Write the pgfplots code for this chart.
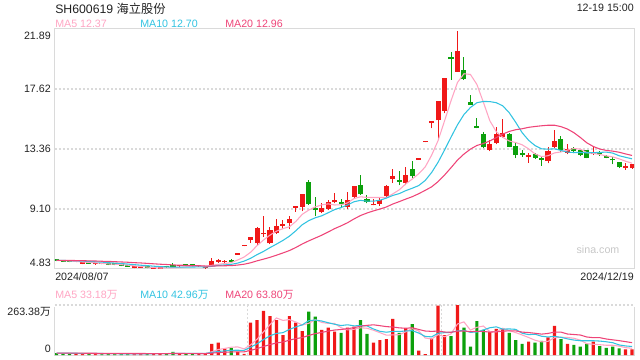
\documentclass[border=0pt]{standalone}
\usepackage{pgfplots}
\pgfplotsset{compat=1.18}
\usepackage{pgfplotstable}
\usepackage{fontspec}
\setmainfont{Liberation Sans}
\newfontfamily\cjk{Noto Sans CJK SC}
\definecolor{gridc}{RGB}{218,218,218}
\definecolor{cred}{RGB}{240,24,24}
\definecolor{cgreen}{RGB}{12,160,12}
\definecolor{cfive}{RGB}{255,165,195}
\definecolor{cten}{RGB}{50,195,225}
\definecolor{ctwenty}{RGB}{238,68,120}
\definecolor{labc}{RGB}{34,34,34}

\pgfplotstableread{
i O H L C
3 5.33 5.38 5.30 5.33
4 5.20 5.30 5.18 5.25
6 5.15 5.22 5.13 5.20
12 4.90 4.97 4.88 4.93
13 4.93 5.00 4.92 4.95
15 4.84 4.89 4.83 4.86
16 4.85 4.90 4.83 4.87
19 5.02 5.10 5.00 5.06
22 5.01 5.06 5.00 5.03
23 4.88 4.92 4.86 4.90
24 5.11 5.61 5.04 5.40
25 5.33 5.55 5.28 5.40
26 5.30 5.47 5.26 5.36
28 5.86 5.86 5.86 5.86
29 6.45 6.45 6.45 6.45
30 6.89 7.10 6.70 7.08
31 6.65 7.81 6.54 7.72
32 7.30 8.59 7.12 7.33
33 6.65 7.80 6.60 7.60
34 7.37 8.36 7.32 7.89
35 7.89 8.31 7.65 7.95
36 8.12 8.60 7.67 8.38
37 9.18 9.22 8.90 9.22
38 9.24 10.14 8.94 10.14
41 8.87 9.50 8.80 9.16
42 9.08 9.70 9.02 9.56
43 9.56 10.22 9.50 9.75
45 9.22 10.33 9.07 9.73
46 9.97 10.73 9.80 10.70
49 9.36 9.80 9.35 9.40
50 9.45 9.92 9.31 9.73
51 10.02 10.80 9.95 10.70
52 11.21 11.92 10.97 11.44
54 10.93 12.10 10.79 11.51
56 12.58 12.58 12.58 12.58
57 13.84 13.84 13.84 13.84
58 15.20 15.22 14.85 15.22
59 15.40 16.74 14.05 16.74
60 16.08 18.41 15.90 18.41
62 18.85 21.73 18.85 20.32
67 13.29 14.00 13.20 13.71
68 13.81 14.90 13.71 14.41
69 14.23 15.47 14.15 14.52
73 12.79 13.10 12.39 12.93
76 12.50 13.52 12.34 13.22
77 13.50 14.72 13.45 13.93
79 13.07 13.70 13.00 13.36
83 12.98 13.60 12.96 13.00
88 12.00 12.33 11.88 12.16
89 11.98 12.30 11.95 12.28
}\redc

\pgfplotstableread{
i O H L C
0 5.47 5.50 5.38 5.40
1 5.40 5.43 5.33 5.36
2 5.36 5.40 5.30 5.33
5 5.25 5.28 5.20 5.22
7 5.22 5.25 5.15 5.17
8 5.17 5.20 5.10 5.13
9 5.13 5.16 5.08 5.12
10 5.12 5.14 5.04 5.06
11 5.06 5.08 4.98 5.00
14 4.95 4.97 4.88 4.90
17 4.98 5.00 4.93 4.95
18 5.05 5.24 4.98 5.00
20 5.10 5.15 5.05 5.08
21 5.08 5.10 5.03 5.06
27 5.40 5.54 5.30 5.33
39 11.02 11.15 9.40 9.44
40 9.10 9.92 8.57 9.04
44 9.56 9.79 9.14 9.44
47 10.80 11.51 10.10 10.16
48 9.80 10.09 9.50 9.57
53 11.08 11.82 10.80 11.02
55 11.92 12.53 11.30 11.44
61 19.90 20.25 18.27 19.75
63 18.97 19.92 18.30 18.33
64 16.70 17.20 16.50 16.50
65 14.88 15.54 14.85 14.85
66 14.41 14.55 13.40 13.47
70 14.41 14.50 13.50 13.52
71 13.57 13.80 12.72 12.93
72 12.96 13.29 12.80 12.93
74 13.00 13.10 12.64 12.72
75 12.62 12.83 12.16 12.58
78 14.07 14.29 13.17 13.29
80 13.43 13.52 13.05 13.22
81 13.29 13.29 12.83 12.93
82 13.29 13.29 12.72 12.72
84 13.02 13.20 12.87 12.98
85 12.87 12.90 12.70 12.73
86 12.58 12.80 12.28 12.55
87 12.47 12.47 12.00 12.05
}\greenc

\pgfplotstableread{
i m5 m10 m20
0 5.44 5.45 5.45
1 5.42 5.44 5.44
2 5.40 5.42 5.44
3 5.37 5.41 5.43
4 5.33 5.39 5.42
5 5.30 5.37 5.41
6 5.27 5.34 5.40
7 5.23 5.32 5.38
8 5.19 5.28 5.37
9 5.17 5.25 5.35
10 5.14 5.22 5.33
11 5.10 5.18 5.31
12 5.05 5.14 5.28
13 5.01 5.10 5.26
14 4.97 5.07 5.23
15 4.93 5.03 5.20
16 4.90 5.00 5.17
17 4.91 4.98 5.15
18 4.92 4.96 5.12
19 4.95 4.96 5.10
20 4.99 4.96 5.09
21 5.03 4.97 5.07
22 5.05 4.98 5.06
23 5.03 4.97 5.04
24 5.09 5.02 5.04
25 5.16 5.08 5.05
26 5.22 5.12 5.06
27 5.28 5.16 5.07
28 5.47 5.25 5.11
29 5.68 5.39 5.17
30 6.02 5.59 5.27
31 6.49 5.85 5.41
32 6.89 6.08 5.53
33 7.24 6.35 5.66
34 7.52 6.60 5.81
35 7.70 6.86 5.97
36 7.83 7.16 6.14
37 8.21 7.55 6.36
38 8.72 7.98 6.61
39 9.02 8.27 6.83
40 9.24 8.47 7.03
41 9.39 8.61 7.23
42 9.46 8.83 7.46
43 9.38 9.05 7.70
44 9.39 9.20 7.90
45 9.53 9.38 8.12
46 9.84 9.61 8.39
47 9.96 9.71 8.63
48 9.92 9.65 8.81
49 9.91 9.65 8.96
50 9.91 9.72 9.09
51 9.91 9.87 9.24
52 10.17 10.06 9.45
53 10.46 10.19 9.62
54 10.88 10.40 9.80
55 11.22 10.57 9.97
56 11.60 10.76 10.18
57 12.08 11.12 10.42
58 12.92 11.69 10.67
59 13.96 12.42 11.04
60 15.36 13.29 11.51
61 16.79 14.20 12.03
62 18.09 15.08 12.57
63 18.71 15.81 13.00
64 18.66 16.31 13.35
65 17.95 16.65 13.61
66 16.69 16.74 13.75
67 15.37 16.73 13.93
68 14.59 16.65 14.17
69 14.19 16.43 14.42
70 13.93 15.94 14.61
71 13.82 15.26 14.73
72 13.66 14.52 14.80
73 13.37 13.98 14.90
74 13.01 13.60 14.96
75 12.82 13.37 15.01
76 12.88 13.35 15.05
77 13.08 13.37 15.05
78 13.15 13.26 14.95
79 13.28 13.14 14.78
80 13.40 13.11 14.52
81 13.35 13.11 14.18
82 13.10 13.09 13.80
83 13.05 13.10 13.54
84 12.97 13.12 13.36
85 12.87 13.14 13.26
86 12.80 13.07 13.21
87 12.66 12.88 13.13
88 12.49 12.77 13.01
89 12.35 12.66 12.90
}\pma

\pgfplotstableread{
i v
3 6
4 8
6 7
12 8
13 6
15 9
16 8
19 8
22 6
23 9
24 58
25 65
26 35
28 17
29 6
30 170
31 184
32 233
33 205
34 184
35 105
36 205
37 170
38 126
41 132
42 144
43 123
45 144
46 149
49 65
50 79
51 84
52 190
54 141
56 23
57 5
58 88
59 260
60 105
62 263.38
67 120
68 137
69 137
73 70
76 93
77 153
79 58
83 70
88 30
89 30
}\redv

\pgfplotstableread{
i v
0 10
1 8
2 7
5 6
7 6
8 7
9 5
10 6
11 7
14 7
17 6
18 16
20 7
21 6
27 38
39 228
40 202
44 117
47 184
48 111
53 117
55 163
61 100
63 144
64 44
65 179
66 132
70 117
71 79
72 58
74 65
75 74
78 84
80 53
81 44
82 58
84 47
85 38
86 44
87 35
}\greenv

\pgfplotstableread{
i m5 m10 m20
0 10 10 10
1 9.6 9.8 9.9
2 9 9.5 9.75
3 8.2 9.1 9.55
4 7.8 8.9 9.45
5 7 8.5 9.25
6 6.8 8.2 9.1
7 6.6 7.8 8.9
8 6.8 7.5 8.75
9 6.2 7 8.5
10 6.2 6.6 8.3
11 6.2 6.5 8.15
12 6.6 6.6 8.05
13 6.4 6.6 7.85
14 6.8 6.5 7.7
15 7.4 6.8 7.65
16 7.6 6.9 7.55
17 7.2 6.9 7.35
18 9.2 7.8 7.65
19 9.4 8.1 7.55
20 9 8.2 7.4
21 8.6 8.1 7.3
22 8.6 7.9 7.25
23 7.2 8.2 7.4
24 17.2 13.3 9.9
25 28.8 18.9 12.85
26 34.6 21.6 14.25
27 41 24.8 15.85
28 42.6 24.9 16.35
29 32.2 24.7 16.4
30 53.2 41 24.6
31 83 58.8 33.45
32 122 81.5 44.7
33 159.6 101.1 54.65
34 195.2 113.7 63.5
35 182.2 117.7 68.3
36 186.4 134.7 78.15
37 173.8 147.9 86.35
38 158 158.8 91.85
39 166.8 181 102.85
40 186.2 184.2 112.6
41 171.6 179 118.9
42 166.4 170.1 125.8
43 165.8 161.9 131.5
44 143.6 155.2 134.45
45 132 159.1 138.4
46 135.4 153.5 144.1
47 143.4 154.9 151.4
48 141 153.4 156.1
49 130.6 137.1 159.05
50 117.6 124.8 154.5
51 104.6 120 149.5
52 105.8 124.6 147.35
53 107 124 142.95
54 122.2 126.4 140.8
55 139 128.3 143.7
56 126.8 115.7 134.6
57 89.8 97.8 126.35
58 84 95.5 124.45
59 107.8 115 126.05
60 96.2 117.6 121.2
61 111.6 119.2 119.6
62 163.2 126.5 125.55
63 174.4 129.2 126.6
64 131.2 119.5 122.95
65 146 121.1 124.7
66 152.4 132 123.85
67 123.8 143.5 120.65
68 122.4 148.4 121.95
69 141 136.1 125.55
70 128.6 137.3 127.45
71 118 135.2 127.2
72 105.6 114.7 120.6
73 92.2 107.3 118.25
74 77.8 109.4 114.45
75 69.2 98.9 110
76 72 95 113.5
77 91 98.3 120.9
78 93.8 93 120.7
79 92.4 85.1 110.6
80 88.2 78.7 108
81 78.4 75.2 105.2
82 59.4 75.2 94.95
83 56.6 75.2 91.25
84 54.4 73.4 91.4
85 51.4 69.8 84.35
86 51.4 64.9 79.95
87 46.8 53.1 75.7
88 38.8 47.7 70.35
89 35.4 44.9 65
}\vma

\begin{document}
\begin{tikzpicture}
\path[use as bounding box] (0pt,0pt) rectangle (480pt,-270pt);
\pgfplotsset{candle/.style 2 args={only marks, mark=*, mark size=0pt,
  mark options={draw=none, fill=none},
  error bars/.cd, y dir=plus, y explicit, error mark=none,
  error bar style={#1, line width=#2}}}
% ---------- main price panel ----------
\begin{axis}[
  at={(41.25pt,-201.75pt)}, anchor=south west,
  width=434.25pt, height=180pt, scale only axis,
  xmin=-0.25, xmax=89.3, ymin=4.83, ymax=21.89,
  axis line style={draw=gridc, line width=0.75pt},
  xtick=\empty,
  ytick={5.27,9.10,13.36,17.62,21.44},
  yticklabels={4.83,9.10,13.36,17.62,21.89},
  major tick length=0pt,
  tick label style={font=\fontsize{8}{9.6}\selectfont, text=labc},
  yticklabel style={inner sep=0pt, xshift=-3pt},
  extra y ticks={9.10,13.36,17.62}, extra y tick labels={},
  extra y tick style={grid=major, major grid style={draw=gridc, line width=1.1pt, dash pattern=on 1.5pt off 1.5pt}},
]
% wicks
\addplot[candle={cred}{0.75pt}]
  table[x=i, y=L, y error expr=\thisrow{H}-\thisrow{L}] {\redc};
\addplot[candle={cgreen}{0.75pt}]
  table[x=i, y=L, y error expr=\thisrow{H}-\thisrow{L}] {\greenc};
% bodies
\addplot[candle={cred}{3.8pt}]
  table[x=i, y=O, y error expr={max(\thisrow{C}-\thisrow{O},0.12)}] {\redc};
\addplot[candle={cgreen}{3.8pt}]
  table[x=i, y=C, y error expr={max(\thisrow{O}-\thisrow{C},0.12)}] {\greenc};
% moving averages
\addplot[cfive, line width=0.8pt, mark=none] table[x=i, y=m5] {\pma};
\addplot[cten, line width=0.8pt, mark=none] table[x=i, y=m10] {\pma};
\addplot[ctwenty, line width=0.8pt, mark=none] table[x=i, y=m20] {\pma};
\end{axis}
% ---------- volume panel ----------
\begin{axis}[
  at={(41.25pt,-266.25pt)}, anchor=south west,
  width=434.25pt, height=37.5pt, scale only axis,
  xmin=-0.25, xmax=89.3, ymin=0, ymax=263.38,
  axis line style={draw=none},
  xtick=\empty,
  ytick={31.6,229}, yticklabels={0,263.38{\cjk 万}},
  major tick length=0pt,
  tick label style={font=\fontsize{8}{9.6}\selectfont, text=labc},
  yticklabel style={inner sep=0pt, xshift=-3pt},
  extra y ticks={263.38}, extra y tick labels={},
  extra y tick style={grid=major, major grid style={draw=gridc, line width=1.1pt, dash pattern=on 1.5pt off 1.5pt}},
  extra x ticks={29.5,59.5}, extra x tick labels={},
  extra x tick style={grid=major, major grid style={draw=gridc, line width=1.1pt, dash pattern=on 1.5pt off 1.5pt}},
  clip=false,
]
\draw[gridc, line width=0.75pt] (rel axis cs:0,0.96) -- (rel axis cs:0,0) -- (rel axis cs:1,0) -- (rel axis cs:1,0.96);
\addplot[ybar, bar width=2.4pt, bar shift=0pt, fill=cred, draw=none] table[x=i, y=v] {\redv};
\addplot[ybar, bar width=2.4pt, bar shift=0pt, fill=cgreen, draw=none] table[x=i, y=v] {\greenv};
\addplot[cfive, line width=0.8pt, mark=none] table[x=i, y=m5] {\vma};
\addplot[cten, line width=0.8pt, mark=none] table[x=i, y=m10] {\vma};
\addplot[ctwenty, line width=0.8pt, mark=none] table[x=i, y=m20] {\vma};
\end{axis}
% ---------- texts ----------
\begin{scope}[x=0.75pt,y=-0.75pt]
\tikzset{lab/.style={inner sep=0pt, font=\fontsize{8}{9.6}\selectfont}}
\node[lab, anchor=west, font=\fontsize{9.2}{11}\selectfont, text=labc] at (55,9) {SH600619 {\cjk 海立股份}};
\node[lab, anchor=east, text=labc] at (634,8) {12-19 15:00};
\node[lab, anchor=west, text=cfive] at (55,24) {MA5 12.37};
\node[lab, anchor=west, text=cten] at (140,24) {MA10 12.70};
\node[lab, anchor=west, text=ctwenty] at (225,24) {MA20 12.96};
\node[lab, anchor=west, text=labc] at (55,277) {2024/08/07};
\node[lab, anchor=east, text=labc] at (634,277) {2024/12/19};
\node[lab, anchor=west, text=cfive] at (55,295) {MA5 33.18{\cjk 万}};
\node[lab, anchor=west, text=cten] at (140,295) {MA10 42.96{\cjk 万}};
\node[lab, anchor=west, text=ctwenty] at (225,295) {MA20 63.80{\cjk 万}};
\node[lab, text=black!22] at (598,250) {sina.com};
\end{scope}
\end{tikzpicture}
\end{document}
